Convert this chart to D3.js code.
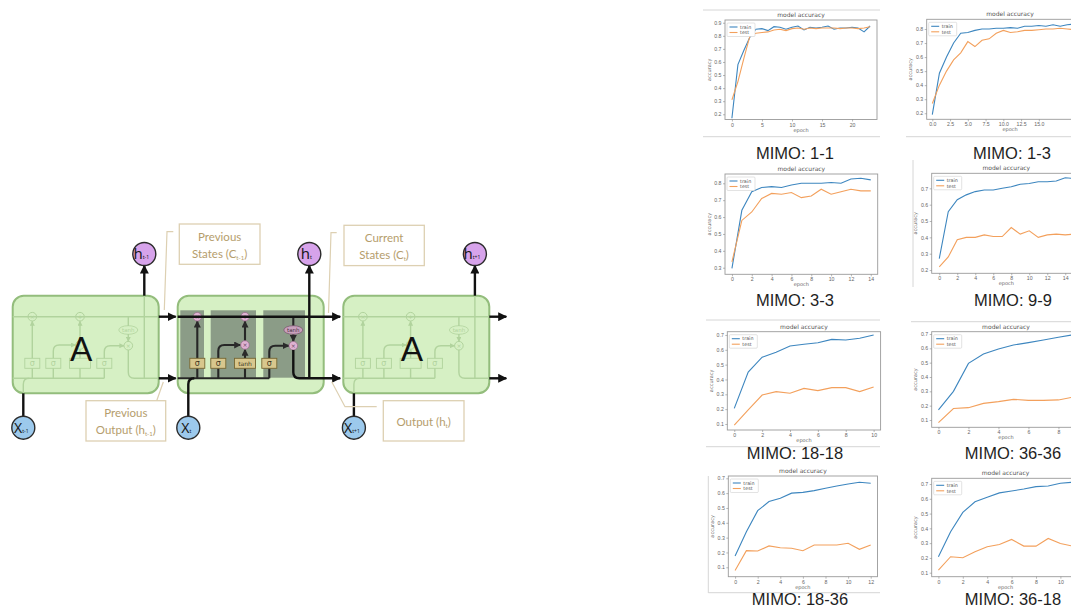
<!DOCTYPE html>
<html><head><meta charset="utf-8">
<script src="https://cdnjs.cloudflare.com/ajax/libs/d3/7.8.5/d3.min.js"></script>
<style>body{margin:0;background:#fff;} svg{display:block;}</style>
</head><body>
<svg id="c" width="1071" height="610"></svg>
<script>
// ---------------- DATA ----------------
const captions = ["MIMO: 1-1","MIMO: 1-3","MIMO: 3-3","MIMO: 9-9","MIMO: 18-18","MIMO: 36-36","MIMO: 18-36","MIMO: 36-18"];
const seriesNames = ["train","test"];
const chartTitle = "model accuracy";

const train_1_1 = [0.17,0.58,0.69,0.79,0.85,0.855,0.84,0.87,0.865,0.85,0.865,0.875,0.845,0.865,0.86,0.865,0.875,0.85,0.86,0.86,0.865,0.86,0.83,0.875];
const test_1_1  = [0.31,0.45,0.63,0.80,0.82,0.825,0.83,0.845,0.85,0.84,0.855,0.86,0.85,0.86,0.855,0.86,0.86,0.86,0.855,0.86,0.86,0.855,0.86,0.87];
const train_1_3 = [0.19,0.485,0.60,0.70,0.77,0.775,0.79,0.80,0.80,0.805,0.805,0.81,0.805,0.82,0.82,0.825,0.82,0.83,0.82,0.83,0.835];
const test_1_3  = [0.27,0.40,0.50,0.58,0.63,0.71,0.675,0.72,0.73,0.77,0.79,0.775,0.78,0.79,0.79,0.795,0.80,0.80,0.805,0.80,0.795];
const train_3_3 = [0.296,0.64,0.75,0.775,0.78,0.775,0.79,0.80,0.80,0.80,0.805,0.80,0.825,0.83,0.82];
const test_3_3  = [0.335,0.58,0.63,0.71,0.74,0.735,0.745,0.715,0.725,0.765,0.735,0.75,0.765,0.755,0.755];
const train_9_9 = [0.27,0.557,0.63,0.66,0.68,0.69,0.69,0.70,0.71,0.725,0.73,0.74,0.74,0.745,0.765,0.76];
const test_9_9  = [0.22,0.28,0.385,0.40,0.40,0.415,0.405,0.405,0.46,0.42,0.44,0.40,0.415,0.42,0.415,0.42];
const train_18_18 = [0.205,0.45,0.55,0.583,0.626,0.637,0.648,0.67,0.666,0.678,0.70];
const test_18_18  = [0.093,0.195,0.295,0.318,0.307,0.34,0.325,0.345,0.345,0.318,0.35];
const train_36_36 = [0.17,0.30,0.495,0.56,0.595,0.623,0.64,0.658,0.677,0.695];
const test_36_36  = [0.082,0.18,0.186,0.216,0.228,0.244,0.237,0.237,0.24,0.26];
const train_18_36 = [0.176,0.34,0.482,0.543,0.565,0.60,0.605,0.617,0.633,0.648,0.662,0.673,0.667];
const test_18_36  = [0.078,0.212,0.21,0.244,0.232,0.228,0.212,0.25,0.25,0.25,0.262,0.221,0.25];
const train_36_18 = [0.208,0.377,0.508,0.58,0.61,0.64,0.653,0.666,0.682,0.686,0.705,0.712];
const test_36_18  = [0.118,0.208,0.201,0.242,0.276,0.291,0.325,0.28,0.28,0.332,0.298,0.28];

const xTicks_1_1 = [0,5,10,15,20];
const xTicks_1_3 = [0,2.5,5,7.5,10,12.5,15];
const xTicks_3_3 = [0,2,4,6,8,10,12,14];
const xTicks_9_9 = [0,2,4,6,8,10,12,14];
const xTicks_18_18 = [0,2,4,6,8,10];
const xTicks_36_36 = [0,2,4,6,8];
const xTicks_18_36 = [0,2,4,6,8,10,12];
const xTicks_36_18 = [0,2,4,6,8,10];
const yTicks_1_1 = [0.2,0.3,0.4,0.5,0.6,0.7,0.8,0.9];
const yTicks_1_3 = [0.2,0.3,0.4,0.5,0.6,0.7,0.8];
const yTicks_3_3 = [0.3,0.4,0.5,0.6,0.7,0.8];
const yTicks_9_9 = [0.2,0.3,0.4,0.5,0.6,0.7];
const yTicks_low = [0.1,0.2,0.3,0.4,0.5,0.6,0.7];

// ---------------- LAYOUT ----------------
const panels = [
  {cap:captions[0], train:train_1_1, test:test_1_1, xt:xTicks_1_1, yt:yTicks_1_1, xf:"d",
   box:{l:725,r:877,t:20,b:119.5}, xDom:[-1.15,24.15], yDom:[0.160,0.921], capPos:[795,153]},
  {cap:captions[1], train:train_1_3, test:test_1_3, xt:xTicks_1_3, yt:yTicks_1_3, xf:".1f",
   box:{l:926.7,r:1093.3,t:19.3,b:119.3}, xDom:[-0.79,22.67], yDom:[0.157,0.869], capPos:[1012,153]},
  {cap:captions[2], train:train_3_3, test:test_3_3, xt:xTicks_3_3, yt:yTicks_3_3, xf:"d",
   box:{l:725,r:877.7,t:174,b:274.3}, xDom:[-0.7,14.7], yDom:[0.261,0.855], capPos:[795,300]},
  {cap:captions[3], train:train_9_9, test:test_9_9, xt:xTicks_9_9, yt:yTicks_9_9, xf:"d",
   box:{l:931.7,r:1081,t:173.3,b:273.3}, xDom:[-0.84,15.75], yDom:[0.18,0.792], capPos:[1013,300]},
  {cap:captions[4], train:train_18_18, test:test_18_18, xt:xTicks_18_18, yt:yTicks_low, xf:"d",
   box:{l:727.3,r:880.6,t:331.7,b:430}, xDom:[-0.5,10.5], yDom:[0.0595,0.722], capPos:[795,453]},
  {cap:captions[5], train:train_36_36, test:test_36_36, xt:xTicks_36_36, yt:yTicks_low, xf:"d",
   box:{l:931.7,r:1080.2,t:331.7,b:427.3}, xDom:[-0.45,9.45], yDom:[0.049,0.716], capPos:[1013,453]},
  {cap:captions[6], train:train_18_36, test:test_18_36, xt:xTicks_18_36, yt:yTicks_low, xf:"d",
   box:{l:728.3,r:877.5,t:476,b:576.7}, xDom:[-0.6,12.6], yDom:[0.0366,0.7155], capPos:[800,599]},
  {cap:captions[7], train:train_36_18, test:test_36_18, xt:xTicks_36_18, yt:yTicks_low, xf:"d",
   box:{l:931.7,r:1079.3,t:478.3,b:576.7}, xDom:[-0.55,11.55], yDom:[0.073,0.7386], capPos:[1013,599]}
];
const borderLines = [
  [703,10,880,10],[703,136.7,880,136.7],[906,136.7,1071,136.7],
  [913,160,913,287],[706,320,880,320],[706,446.7,880,446.7],[911,321.7,1071,321.7],
  [708.3,476,708.3,593],[708.3,592.7,880,592.7]
];
const BLUE = "#3d86bf", ORANGE = "#f3a05c";

const svg = d3.select("#c");
svg.append("rect").attr("width",1071).attr("height",610).attr("fill","#fff");

const defs = svg.append("defs");
function marker(id, size, color){
  defs.append("marker").attr("id",id).attr("viewBox","0 0 10 10").attr("refX",9).attr("refY",5)
    .attr("markerUnits","userSpaceOnUse").attr("markerWidth",size).attr("markerHeight",size)
    .attr("orient","auto").append("path").attr("d","M0,0 L10,5 L0,10 z").attr("fill",color);
}
marker("am", 9, "#111");
marker("ai", 7, "#2a2a2a");
marker("ag", 5, "#b1d39d");

// ---------------- CHART PANELS ----------------
svg.append("g").selectAll("line").data(borderLines).join("line")
  .attr("x1",d=>d[0]).attr("y1",d=>d[1]).attr("x2",d=>d[2]).attr("y2",d=>d[3])
  .attr("stroke","#d6d6d6").attr("stroke-width",1);

panels.forEach(p=>{
  const g = svg.append("g").attr("font-family","DejaVu Sans, sans-serif");
  const b = p.box;
  const x = d3.scaleLinear().domain(p.xDom).range([b.l,b.r]);
  const y = d3.scaleLinear().domain(p.yDom).range([b.b,b.t]);
  g.append("rect").attr("x",b.l).attr("y",b.t).attr("width",b.r-b.l).attr("height",b.b-b.t)
    .attr("fill","#fff").attr("stroke","#9a9a9a").attr("stroke-width",0.9);
  const xa = g.append("g").attr("transform",`translate(0,${b.b})`)
    .call(d3.axisBottom(x).tickValues(p.xt).tickSize(2).tickPadding(1.5).tickFormat(d3.format(p.xf)));
  const ya = g.append("g").attr("transform",`translate(${b.l},0)`)
    .call(d3.axisLeft(y).tickValues(p.yt).tickSize(2).tickPadding(1.5).tickFormat(d3.format(".1f")));
  [xa,ya].forEach(a=>{
    a.select(".domain").remove();
    a.selectAll("line").attr("stroke","#888").attr("stroke-width",0.6);
    a.selectAll("text").attr("fill","#666").attr("font-size",5.2);
  });
  const line = d3.line().x((d,i)=>x(i)).y(d=>y(d)).curve(d3.curveLinear);
  g.append("path").datum(p.train).attr("d",line).attr("fill","none").attr("stroke",BLUE).attr("stroke-width",1.1);
  g.append("path").datum(p.test).attr("d",line).attr("fill","none").attr("stroke",ORANGE).attr("stroke-width",1.1);
  const cx = (b.l+b.r)/2;
  g.append("text").attr("x",cx).attr("y",b.t-3).attr("text-anchor","middle").attr("font-size",6).attr("fill","#555").text(chartTitle);
  g.append("text").attr("x",cx).attr("y",b.b+12).attr("text-anchor","middle").attr("font-size",5).attr("fill","#666").text("epoch");
  g.append("text").attr("transform",`translate(${b.l-14.5},${(b.t+b.b)/2}) rotate(-90)`).attr("text-anchor","middle")
    .attr("font-size",5).attr("fill","#666").text("accuracy");
  const lg = g.append("g").attr("transform",`translate(${b.l+2},${b.t+3})`);
  lg.append("rect").attr("width",28).attr("height",13.5).attr("rx",1).attr("fill","#fff").attr("stroke","#d0d0d0").attr("stroke-width",0.6);
  [BLUE,ORANGE].forEach((c,i)=>{
    lg.append("line").attr("x1",2.5).attr("x2",10.5).attr("y1",4+i*5.5).attr("y2",4+i*5.5).attr("stroke",c).attr("stroke-width",1.1);
    lg.append("text").attr("x",13).attr("y",5.8+i*5.5).attr("font-size",4.8).attr("fill","#555").text(seriesNames[i]);
  });
  svg.append("text").attr("x",p.capPos[0]).attr("y",p.capPos[1]+6).attr("text-anchor","middle")
    .attr("font-family","Liberation Sans, Arial, sans-serif").attr("font-size",16.5).attr("fill","#1e1e1e").text(p.cap);
});

// ---------------- LSTM DIAGRAM ----------------
const Y0 = 295.7, W = 146, H = 97.6, TL = 316.7, BL = 378.3, HC = 254, XC = 427.7, CR = 11.5;
const cellX = [12.7, 177.7, 343.3];
const hLabels = ["t-1","t","t+1"];
const diag = svg.append("g");

function opCircle(g, cx, cy, sym, ghost, showSym){
  g.append("circle").attr("cx",cx).attr("cy",cy).attr("r",4.3)
    .attr("fill",ghost?"none":"#e0b3d3").attr("stroke",ghost?"#b1d39d":"#9a6f8e").attr("stroke-width",ghost?1:0.8);
  if(showSym!==false)
    g.append("text").attr("x",cx).attr("y",cy+2.1).attr("text-anchor","middle").attr("font-size",6)
      .attr("font-family","DejaVu Sans").attr("fill",ghost?"#b1d39d":"#6d4b66").text(sym);
}
function gateBox(g, cx, cy, w, label, ghost, showLabel){
  g.append("rect").attr("x",cx-w/2).attr("y",cy-5).attr("width",w).attr("height",10)
    .attr("fill",ghost?"none":"#d8c78d").attr("stroke",ghost?"#b1d39d":"#776733").attr("stroke-width",0.9);
  if(showLabel!==false)
    g.append("text").attr("x",cx).attr("y",cy+(label==="tanh"?2.2:2.6)).attr("text-anchor","middle")
      .attr("font-size",label==="tanh"?6:8).attr("font-family","DejaVu Sans")
      .attr("fill",ghost?"#b1d39d":"#3c3520").text(label);
}

function drawCell(k){
  const x0 = cellX[k], ghost = k !== 1;
  const g = diag.append("g");
  const X = r => x0 + r;
  g.append("rect").attr("x",x0).attr("y",Y0).attr("width",W).attr("height",H).attr("rx",11)
    .attr("fill","#d6f0c4").attr("stroke","#93bd7c").attr("stroke-width",2);
  if(!ghost){
    [[2.6,23.7],[33,45.3],[85.6,41.7]].forEach(r=>{
      g.append("rect").attr("x",X(r[0])).attr("y",310.3).attr("width",r[1]).attr("height",67.4).attr("fill","#8b9c87");
    });
  }
  const col = ghost ? "#b1d39d" : "#262626";
  const lw = ghost ? 1.4 : 2.1;
  const mk = ghost ? "url(#ag)" : "url(#ai)";
  const L = (d, arrow) => g.append("path").attr("d",d).attr("fill","none").attr("stroke",col)
      .attr("stroke-width",lw).attr("marker-end",arrow?mk:null);
  L(`M${X(0)},${BL} H${X(91.6)}`);
  [19.6,40.6,67.3,91.6].forEach(r=>L(`M${X(r)},${BL} V368.3`));
  L(`M${X(19.6)},358.3 V${TL+4.5}`, true);
  L(`M${X(40.6)},358.3 V351 Q${X(40.6)},345 ${X(46.6)},345 H${X(62.8)}`, true);
  L(`M${X(67.3)},358.3 V349.5`, true);
  L(`M${X(67.3)},340.7 V${TL+4.5}`, true);
  L(`M${X(91.6)},358.3 V351.7 Q${X(91.6)},345.7 ${X(97.6)},345.7 H${X(111.2)}`, true);
  L(`M${X(115.6)},${TL} V326`);
  L(`M${X(115.6)},334 V341.4`, true);
  if(ghost){
    L(`M${X(0)},${TL} H${X(W)}`);
    L(`M${X(115.6)},350 V372.3 Q${X(115.6)},${BL} ${X(121.6)},${BL} H${X(W)}`);
    L(`M${X(131.6)},${BL} V${Y0}`);
    L(`M${X(10.6)},${Y0+H} V384.3 Q${X(10.6)},${BL} ${X(16.6)},${BL}`);
    diag.append("path").attr("d",`M${X(W)},${TL} H${X(163)}`).attr("stroke","#111").attr("stroke-width",2.4).attr("marker-end","url(#am)");
    diag.append("path").attr("d",`M${X(W)},${BL} H${X(163)}`).attr("stroke","#111").attr("stroke-width",2.4).attr("marker-end","url(#am)");
    diag.append("path").attr("d",`M${X(131.6)},${Y0} V${HC+CR}`).attr("stroke","#111").attr("stroke-width",2.4).attr("marker-end","url(#am)");
    diag.append("path").attr("d",`M${X(10.6)},${XC-CR} V${Y0+H}`).attr("stroke","#111").attr("stroke-width",2.4);
  } else {
    const K = (d, arrow) => diag.append("path").attr("d",d).attr("fill","none").attr("stroke","#111")
      .attr("stroke-width",2.4).attr("marker-end",arrow?"url(#am)":null);
    K(`M${X(0)},${TL} H${X(162.5)}`, true);
    K(`M${X(115.6)},350 V372.3 Q${X(115.6)},${BL} ${X(121.6)},${BL} H${X(162.5)}`, true);
    K(`M${X(131.6)},${BL} V${HC+CR}`, true);
    K(`M${X(10.6)},${XC-CR} V384.3 Q${X(10.6)},${BL} ${X(16.6)},${BL}`);
  }
  opCircle(g, X(19.6), TL, "×", ghost);
  opCircle(g, X(67.3), TL, "+", ghost);
  opCircle(g, X(67.3), 345, "×", ghost, !ghost);
  opCircle(g, X(115.6), 345.7, "×", ghost);
  g.append("ellipse").attr("cx",X(115.6)).attr("cy",330).attr("rx",9.5).attr("ry",4.3)
    .attr("fill",ghost?"none":"#c9a1bd").attr("stroke",ghost?"#b1d39d":"#7c5a72").attr("stroke-width",0.8);
  g.append("text").attr("x",X(115.6)).attr("y",332).attr("text-anchor","middle").attr("font-size",5.5)
    .attr("font-family","DejaVu Sans").attr("fill",ghost?"#b1d39d":"#4a3344").text("tanh");
  gateBox(g, X(19.6), 363.3, 15, "σ", ghost);
  gateBox(g, X(40.6), 363.3, 15, "σ", ghost);
  gateBox(g, X(67.3), 363.3, 21, "tanh", ghost, !ghost);
  gateBox(g, X(91.6), 363.3, 15, "σ", ghost);
  if(ghost){
    diag.append("text").attr("x",X(68.5)).attr("y",361).attr("text-anchor","middle").attr("font-size",33)
      .attr("font-family","Lato, Noto Sans, sans-serif").attr("fill","#111").text("A");
  }
}
cellX.forEach((_,k)=>drawCell(k));

cellX.forEach((x0,k)=>{
  const hc = diag.append("g");
  hc.append("circle").attr("cx",x0+131.6).attr("cy",HC).attr("r",CR).attr("fill","#d7a3eb").attr("stroke","#2b2b2b").attr("stroke-width",1.4);
  const ht = hc.append("text").attr("x",x0+131.6-3).attr("y",HC+5).attr("text-anchor","middle")
    .attr("font-family","Noto Sans, sans-serif").attr("fill","#1a1a1a");
  ht.append("tspan").attr("font-size",15).text("h");
  ht.append("tspan").attr("font-size",5).text(hLabels[k]);
  const xc = diag.append("g");
  xc.append("circle").attr("cx",x0+10.6).attr("cy",XC).attr("r",CR).attr("fill","#9cc9ec").attr("stroke","#2b2b2b").attr("stroke-width",1.4);
  const xt = xc.append("text").attr("x",x0+10.6-2).attr("y",XC+5).attr("text-anchor","middle")
    .attr("font-family","Noto Sans, sans-serif").attr("fill","#1a1a1a");
  xt.append("tspan").attr("font-size",14).text("X");
  xt.append("tspan").attr("font-size",5).text(hLabels[k]);
});

const TAN = "#b59d6c", TANB = "#ddd0b2";
function note(x, y, w, h, lines){
  diag.append("rect").attr("x",x).attr("y",y).attr("width",w).attr("height",h).attr("fill","#fff").attr("stroke",TANB).attr("stroke-width",1.3);
  lines.forEach(l=>{
    const t = diag.append("text").attr("x",x+w/2).attr("y",l.y).attr("text-anchor","middle")
      .attr("font-family","Lato, Noto Sans, sans-serif").attr("font-size",11.5).attr("fill",TAN);
    t.append("tspan").text(l.a);
    if(l.sub){ t.append("tspan").attr("font-size",6).attr("dy",2).text(l.sub); t.append("tspan").attr("dy",-2).text(l.b); }
  });
}
function leader(pts){
  diag.append("path").attr("d",d3.line()(pts)).attr("fill","none").attr("stroke",TANB).attr("stroke-width",1.2);
}
note(179.3,224,80.7,40.3,[{y:241,a:"Previous"},{y:258,a:"States (C",sub:"t-1",b:")"}]);
note(344,225.3,80.3,40.3,[{y:242,a:"Current"},{y:259,a:"States (C",sub:"t",b:")"}]);
note(86,400.7,79.7,40.3,[{y:417,a:"Previous"},{y:434,a:"Output (h",sub:"t-1",b:")"}]);
note(383.3,400.7,80.7,40.3,[{y:425.5,a:"Output (h",sub:"t",b:")"}]);
leader([[173.3,231.7],[167,231.7],[164.3,310]]);
leader([[336.7,232.7],[331,232.7],[328.5,313]]);
leader([[163.3,382],[156.7,400.7]]);
leader([[331.7,381.7],[345,406.7],[376.7,406.7]]);
</script>
</body></html>
